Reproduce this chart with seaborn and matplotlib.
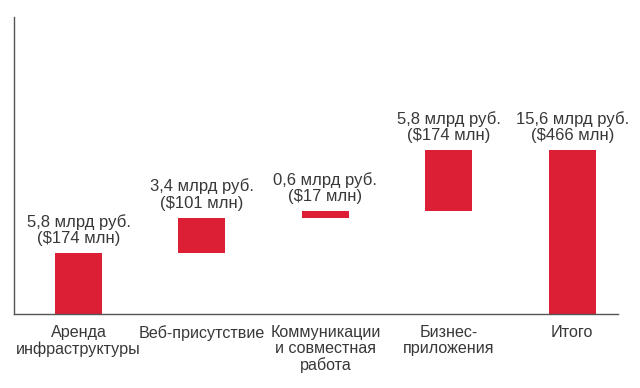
import matplotlib
matplotlib.use("Agg")
import matplotlib.pyplot as plt
import seaborn as sns
import pandas as pd

categories = ["Аренда\nинфраструктуры", "Веб-присутствие",
              "Коммуникации\nи совместная\nработа", "Бизнес-\nприложения", "Итого"]
values_rub = [5.8, 3.4, 0.6, 5.8, 15.6]
labels = ["5,8 млрд руб.\n($174 млн)", "3,4 млрд руб.\n($101 млн)",
          "0,6 млрд руб.\n($17 млн)", "5,8 млрд руб.\n($174 млн)",
          "15,6 млрд руб.\n($466 млн)"]

# waterfall bottoms: cumulative sum for steps, 0 for total
bottoms = []
acc = 0.0
for v in values_rub[:-1]:
    bottoms.append(acc)
    acc += v
bottoms.append(0.0)

sns.set_theme(style="white")
plt.rcParams['font.family'] = ['Liberation Sans', 'DejaVu Sans']

df = pd.DataFrame({"cat": categories, "val": values_rub})

fig = plt.figure(figsize=(6.4, 3.88), dpi=100)
ax = fig.add_axes([0.0214, 0.1907, 0.944, 0.765])
sns.barplot(data=df, x="cat", y="val", color="#dc1f35", saturation=1,
            width=0.38, ax=ax, edgecolor="none")

for patch, b, lab in zip(ax.patches, bottoms, labels):
    patch.set_y(b)
    cx = patch.get_x() + patch.get_width() / 2
    top = b + patch.get_height()
    ax.annotate(lab, (cx, top), xytext=(0, 5), textcoords="offset points",
                ha="center", va="bottom", fontsize=12, color="#383838",
                linespacing=1.13)

ax.set_xlim(-0.525, 4.37)
ax.set_ylim(0, 28.3)
ax.set_xlabel("")
ax.set_ylabel("")
ax.set_yticks([])
ax.tick_params(axis="x", length=0, pad=8, labelsize=11.6, colors="#383838")
for t in ax.get_xticklabels():
    t.set_linespacing(1.1)
    t.set_va("top")
for s in ["top", "right"]:
    ax.spines[s].set_visible(False)
for s in ["left", "bottom"]:
    ax.spines[s].set_color("#555555")
    ax.spines[s].set_linewidth(1.0)

fig.savefig("out.png", dpi=100)
